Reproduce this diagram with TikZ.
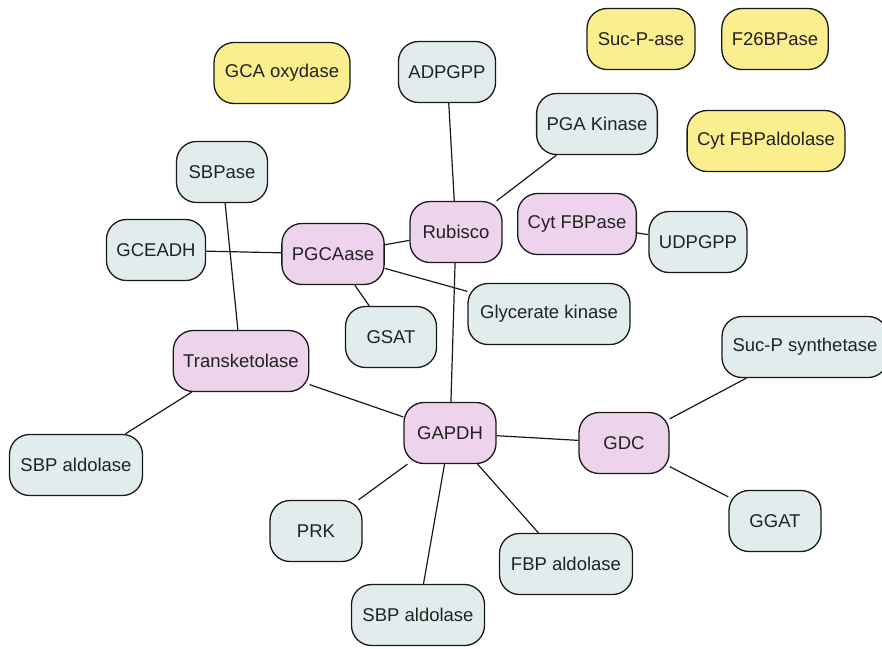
\documentclass[tikz,border=0pt]{standalone}
\usepackage{fontspec}
\setmainfont{Liberation Sans}
\definecolor{yel}{HTML}{FAEE8F}
\definecolor{blu}{HTML}{E1EDEC}
\definecolor{pnk}{HTML}{EDD3EC}
\definecolor{txt}{HTML}{222222}
\tikzset{
  box/.style={draw=black!90, line width=1.3pt, rounded corners=20pt, minimum height=61pt,
    inner xsep=10pt, text=txt, font=\fontsize{18.5}{22}\selectfont},
  yb/.style={box, fill=yel},
  bb/.style={box, fill=blu},
  pb/.style={box, fill=pnk},
  link/.style={draw=black!90, line width=1.2pt}
}
\begin{document}
\begin{tikzpicture}[x=1pt,y=-1pt]
\useasboundingbox (0,0) rectangle (882,648);
\clip (0,0) rectangle (882,648);
\node[yb, minimum width=136pt] (gca) at (282,73) {GCA oxydase};
\node[bb, minimum width=97pt] (adpgpp) at (447,72) {ADPGPP};
\node[yb, minimum width=108pt] (sucpase) at (641,39) {Suc-P-ase};
\node[yb, minimum width=106pt] (f26) at (775,39) {F26BPase};
\node[bb, minimum width=118pt] (pgak) at (597,124) {PGA Kinase};
\node[yb, minimum width=157pt] (cytald) at (766,141) {Cyt FBPaldolase};
\node[bb, minimum width=91pt] (sbpase) at (222,172) {SBPase};
\node[bb, minimum width=98pt] (gceadh) at (156,250) {GCEADH};
\node[pb, minimum width=101pt] (pgcaase) at (333,254) {PGCAase};
\node[pb, minimum width=92pt] (rubisco) at (456,232) {Rubisco};
\node[pb, minimum width=116pt] (cytfbp) at (577,224) {Cyt FBPase};
\node[bb, minimum width=95pt] (udpgpp) at (698,242) {UDPGPP};
\node[bb, minimum width=91pt] (gsat) at (391,337) {GSAT};
\node[bb, minimum width=162pt] (glyk) at (549,314) {Glycerate kinase};
\node[pb, minimum width=134pt] (transk) at (241,361) {Transketolase};
\node[bb, minimum width=166pt] (sucps) at (805,347) {Suc-P synthetase};
\node[bb, minimum width=133pt] (sbpl) at (76,465) {SBP aldolase};
\node[pb, minimum width=92pt] (gapdh) at (450,433) {GAPDH};
\node[pb, minimum width=90pt] (gdc) at (624,443) {GDC};
\node[bb, minimum width=92pt] (ggat) at (775,521) {GGAT};
\node[bb, minimum width=92pt] (prk) at (316,531) {PRK};
\node[bb, minimum width=133pt] (fbpald) at (566,564) {FBP aldolase};
\node[bb, minimum width=133pt] (sbpb) at (418,615) {SBP aldolase};
\draw[link] (adpgpp) -- (rubisco);
\draw[link] (pgak) -- (rubisco);
\draw[link] (rubisco) -- (pgcaase);
\draw[link] (rubisco) -- (gapdh);
\draw[link] (gceadh) -- (pgcaase);
\draw[link] (pgcaase) -- (gsat);
\draw[link] (pgcaase) -- (glyk);
\draw[link] (sbpase) -- (transk);
\draw[link] (transk) -- (sbpl);
\draw[link] (transk) -- (gapdh);
\draw[link] (gapdh) -- (gdc);
\draw[link] (gapdh) -- (prk);
\draw[link] (gapdh) -- (sbpb);
\draw[link] (gapdh) -- (fbpald);
\draw[link] (gdc) -- (sucps);
\draw[link] (gdc) -- (ggat);
\draw[link] (cytfbp) -- (udpgpp);
\end{tikzpicture}
\end{document}
